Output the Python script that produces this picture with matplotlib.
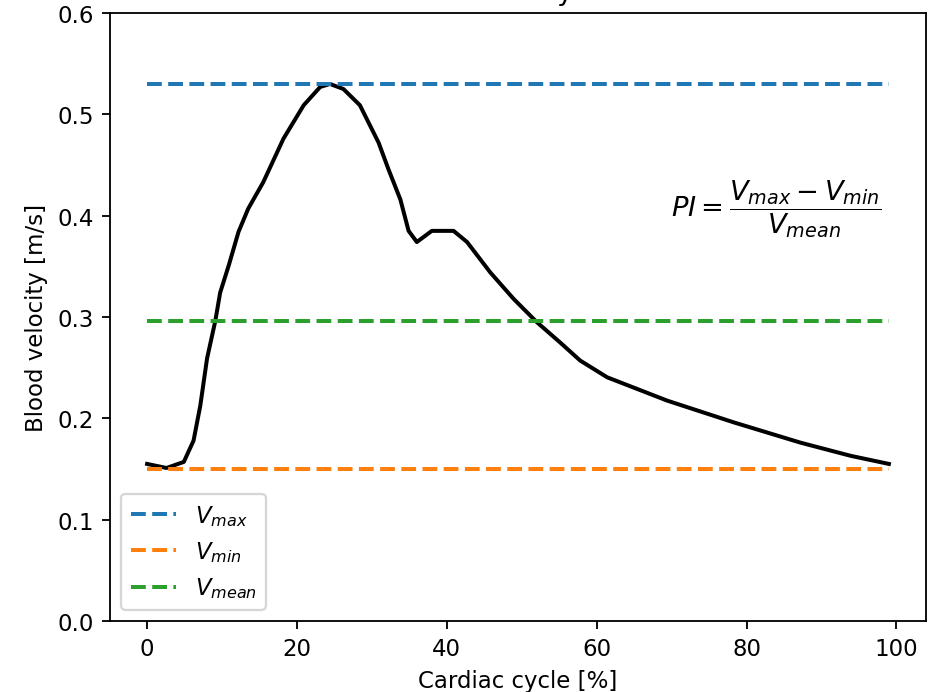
import matplotlib
matplotlib.use("Agg")
import matplotlib.pyplot as plt

cycle = [0, 2.6, 4.9, 6.2, 7.1, 8.0, 9.1, 9.75, 10.9, 12.2, 13.5, 15.5, 18.2, 20.9,
         23.1, 24.4, 26.2, 28.4, 30.9, 32.2, 33.8, 34.9, 36.0, 38.0, 40.9, 42.7,
         45.8, 48.9, 52.0, 55.1, 57.8, 61.4, 69.4, 78.3, 87.2, 93.9, 99]
velocity = [0.155, 0.151, 0.157, 0.178, 0.2125, 0.259, 0.296, 0.324, 0.351, 0.384,
            0.407, 0.433, 0.476, 0.509, 0.527, 0.530, 0.525, 0.509, 0.472, 0.446,
            0.416, 0.385, 0.374, 0.385, 0.385, 0.374, 0.344, 0.318, 0.295, 0.275,
            0.257, 0.2405, 0.2175, 0.196, 0.176, 0.163, 0.155]
v_max = 0.53
v_min = 0.15
v_mean = 0.296
x_start, x_end = 0, 99

dpi = 164.5
lw = 1.75
fig = plt.figure(figsize=(941 / dpi, 693 / dpi), dpi=dpi)
ax = fig.add_axes([110 / 941, 71 / 693, 816 / 941, 608 / 693])

ax.plot(cycle, velocity, color="black", lw=lw)
ax.plot([x_start, x_end], [v_max, v_max], "--", color="C0", lw=lw, label=r"$V_{max}$")
ax.plot([x_start, x_end], [v_min, v_min], "--", color="C1", lw=lw, label=r"$V_{min}$")
ax.plot([x_start, x_end], [v_mean, v_mean], "--", color="C2", lw=lw, label=r"$V_{mean}$")

ax.text(84.0, 0.407, r"$PI = \dfrac{V_{max} - V_{min}}{V_{mean}}$", fontsize=12,
        ha="center", va="center")

ax.set_ylim(0, 0.6)
ax.set_xlabel("Cardiac cycle [%]")
ax.set_ylabel("Blood velocity [m/s]")
ax.set_title("Features of velocity waveforms")
ax.legend(loc="lower left")

fig.savefig("out.png", dpi=dpi)
